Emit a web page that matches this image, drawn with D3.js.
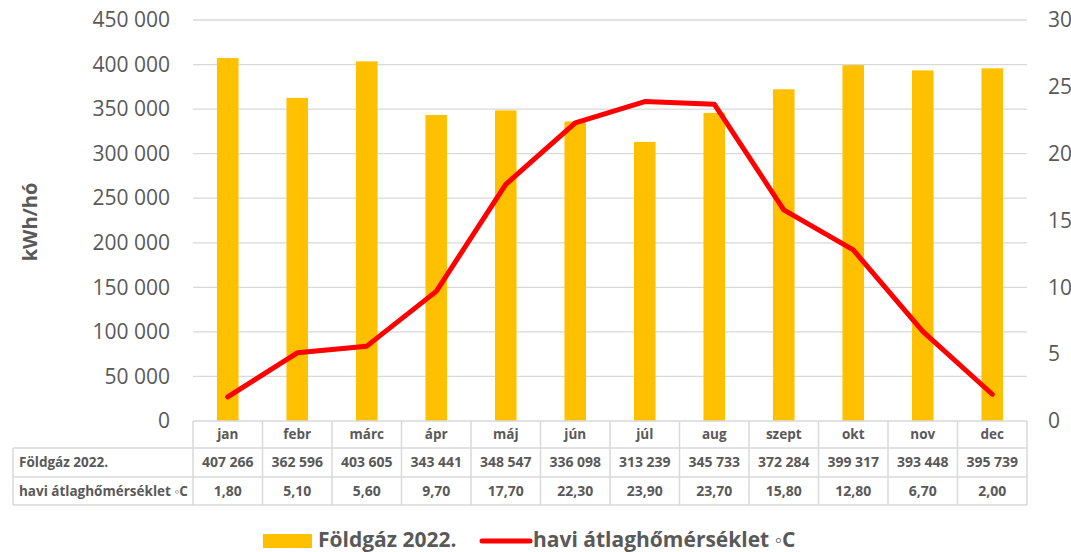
<!DOCTYPE html>
<html>
<head>
<meta charset="utf-8">
<script src="https://cdn.jsdelivr.net/npm/d3@7"></script>
<style>
  body { margin: 0; background: #fff; }
  svg { font-family: "Open Sans", sans-serif; }
  text { fill: #595959; }
</style>
</head>
<body>
<svg width="1071" height="552"></svg>
<script>
var months = ["jan", "febr", "márc", "ápr", "máj", "jún", "júl", "aug", "szept", "okt", "nov", "dec"];
var gas = [407266, 362596, 403605, 343441, 348547, 336098, 313239, 345733, 372284, 399317, 393448, 395739];
var temp = [1.8, 5.1, 5.6, 9.7, 17.7, 22.3, 23.9, 23.7, 15.8, 12.8, 6.7, 2.0];
var gasTicks = [0, 50000, 100000, 150000, 200000, 250000, 300000, 350000, 400000, 450000];
var tempTicks = [0, 5, 10, 15, 20, 25, 30];
var gasName = "Földgáz 2022.";
var tempName = "havi átlaghőmérséklet ◦C";

var svg = d3.select("svg"),
    pL = 193, pR = 1027, pT = 20, pB = 421;

var hu = d3.formatLocale({decimal: ",", thousands: " ", grouping: [3], currency: ["", " Ft"]});
var fmtInt = hu.format(",d"),
    fmtDec = hu.format(".2f");

var x = d3.scaleBand()
    .domain(months)
    .range([pL, pR]);

var y = d3.scaleLinear()
    .domain([0, 450000])
    .range([pB, pT]);

var y2 = d3.scaleLinear()
    .domain([0, 30])
    .range([pB, pT]);

// gridlines
svg.append("g")
  .selectAll("line")
  .data(gasTicks.slice(1))
  .join("line")
    .attr("x1", pL)
    .attr("x2", pR)
    .attr("y1", d => y(d))
    .attr("y2", d => y(d))
    .attr("stroke", "#d9d9d9")
    .attr("stroke-width", 1.3);

var gY = svg.append("g")
    .attr("transform", "translate(" + (pL - 2) + ",0)")
    .call(d3.axisLeft(y).tickValues(gasTicks).tickFormat(fmtInt).tickSize(0).tickPadding(21));

var gY2 = svg.append("g")
    .attr("transform", "translate(" + pR + ",0)")
    .call(d3.axisRight(y2).tickValues(tempTicks).tickSize(0).tickPadding(21));

svg.selectAll(".domain").remove();
svg.selectAll(".tick text")
    .style("font-size", "21px")
    .style("font-family", "'Open Sans', sans-serif")
    .attr("fill", "#595959");

svg.append("text")
    .attr("transform", "translate(30,222) rotate(-90)")
    .attr("text-anchor", "middle")
    .attr("dy", "0.35em")
    .style("font-size", "20px")
    .style("font-weight", "bold")
    .text("kWh/hó");

// bars
var bw = x.bandwidth() * 0.31;
svg.append("g")
  .selectAll("rect")
  .data(gas)
  .join("rect")
    .attr("x", (d, i) => x(months[i]) + (x.bandwidth() - bw) / 2)
    .attr("y", d => y(d))
    .attr("width", bw)
    .attr("height", d => pB - y(d))
    .attr("fill", "#ffc000");

// temperature line
var line = d3.line()
    .x((d, i) => x(months[i]) + x.bandwidth() / 2)
    .y(d => y2(d));

svg.append("path")
    .datum(temp)
    .attr("d", line)
    .attr("fill", "none")
    .attr("stroke", "#ff0000")
    .attr("stroke-width", 5)
    .attr("stroke-linecap", "round")
    .attr("stroke-linejoin", "round");

// data table
var rows = [421, 448, 477, 505],
    tableLeft = 13,
    tbl = svg.append("g");

var border = "#d9d9d9";
// horizontal lines
tbl.append("line").attr("x1", pL).attr("x2", pR).attr("y1", rows[0]).attr("y2", rows[0]);
[1, 2, 3].forEach(r => {
  tbl.append("line").attr("x1", tableLeft).attr("x2", pR).attr("y1", rows[r]).attr("y2", rows[r]);
});
// vertical lines
tbl.append("line").attr("x1", tableLeft).attr("x2", tableLeft).attr("y1", rows[1]).attr("y2", rows[3]);
months.concat(["end"]).forEach((m, i) => {
  var xx = i < 12 ? x(m) : pR;
  tbl.append("line").attr("x1", xx).attr("x2", xx).attr("y1", rows[0]).attr("y2", rows[3]);
});
tbl.selectAll("line").attr("stroke", border).attr("stroke-width", 1.5);

function rowText(vals, r) {
  tbl.append("g")
    .selectAll("text")
    .data(vals)
    .join("text")
      .attr("x", (d, i) => x(months[i]) + x.bandwidth() / 2)
      .attr("y", (rows[r] + rows[r + 1]) / 2)
      .attr("dy", "0.35em")
      .attr("text-anchor", "middle")
      .style("font-size", r === 0 ? "13.5px" : "14px")
      .style("font-weight", "bold")
      .text(d => d);
}
rowText(months, 0);
rowText(gas.map(fmtInt), 1);
rowText(temp.map(fmtDec), 2);

[gasName, tempName].forEach((t, i) => {
  tbl.append("text")
    .attr("x", 19)
    .attr("y", (rows[i + 1] + rows[i + 2]) / 2)
    .attr("dy", "0.35em")
    .style("font-size", "13.5px")
    .style("font-weight", "bold")
    .text(t);
});

// legend
var lg = svg.append("g");
lg.append("rect")
    .attr("x", 263).attr("y", 534)
    .attr("width", 49).attr("height", 14)
    .attr("fill", "#ffc000");
lg.append("text")
    .attr("x", 318).attr("y", 540)
    .attr("dy", "0.35em")
    .style("font-size", "21px")
    .style("font-weight", "bold")
    .text(gasName);
lg.append("line")
    .attr("x1", 482).attr("x2", 530)
    .attr("y1", 541).attr("y2", 541)
    .attr("stroke", "#ff0000")
    .attr("stroke-width", 5)
    .attr("stroke-linecap", "round");
lg.append("text")
    .attr("x", 533).attr("y", 540)
    .attr("dy", "0.35em")
    .style("font-size", "21px")
    .style("font-weight", "bold")
    .text(tempName);
</script>
</body>
</html>
